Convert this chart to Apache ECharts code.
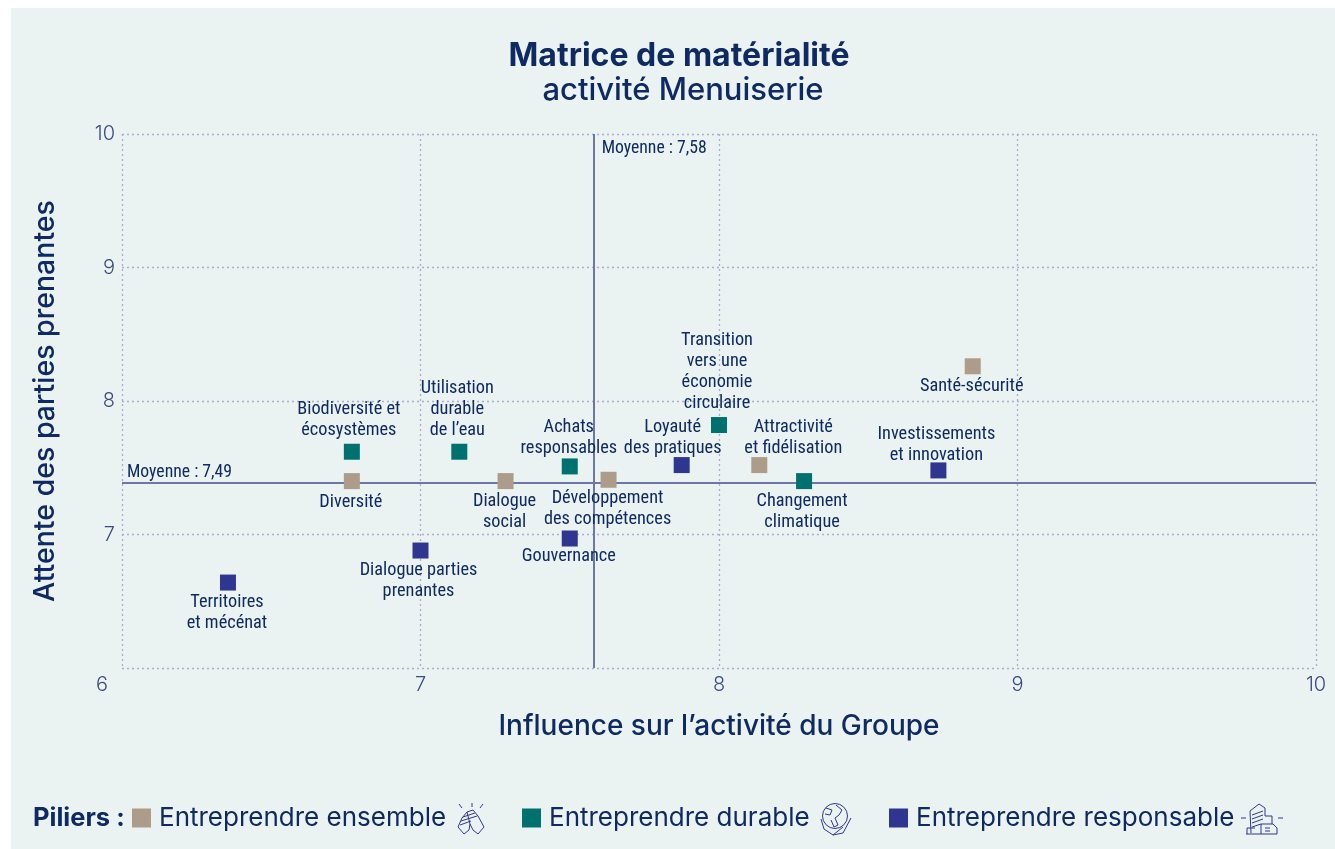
<!DOCTYPE html>
<html><head><meta charset="utf-8">
<script src="https://cdn.jsdelivr.net/npm/echarts@6/dist/echarts.min.js"></script>
<style>
html,body{margin:0;padding:0;background:#fff;overflow:hidden}
#panel{position:absolute;left:11px;top:8px;right:0;bottom:0;background:#eaf3f1}
#c{position:absolute;left:0;top:0;width:1335px;height:849px}
</style></head><body><div id="panel"></div><div id="c"></div>
<script>
const xTicks = ['6','7','8','9','10'];
const yTicks = ['6','7','8','9','10'];
const meanX = 7.58, meanY = 7.39;
const meanXLabel = 'Moyenne : 7,58', meanYLabel = 'Moyenne : 7,49';

const ensembleNames = ['Santé-sécurité','Attractivité\net fidélisation','Développement\ndes compétences','Dialogue\nsocial','Diversité'];
const ensembleX = [8.85,8.135,7.63,7.285,6.77];
const ensembleY = [8.26,7.52,7.41,7.40,7.40];

const durableNames = ['Changement\nclimatique','Transition\nvers une\néconomie\ncirculaire','Achats\nresponsables','Utilisation\ndurable\nde l’eau','Biodiversité et\nécosystèmes'];
const durableX = [8.285,8.00,7.50,7.13,6.77];
const durableY = [7.40,7.82,7.51,7.62,7.62];

const responsableNames = ['Investissements\net innovation','Loyauté\ndes pratiques','Gouvernance','Dialogue parties\nprenantes','Territoires\net mécénat'];
const responsableX = [8.735,7.875,7.50,7.00,6.355];
const responsableY = [7.48,7.52,6.97,6.88,6.64];

const pillars = ['Entreprendre ensemble','Entreprendre durable','Entreprendre responsable'];

// label placement, separate from the data: [side, horizontal shift, vertical shift]
const place = {
 'Santé-sécurité':['bottom',-1,1],'Attractivité\net fidélisation':['top',34,5],'Développement\ndes compétences':['bottom',-1,-1],
 'Dialogue\nsocial':['bottom',-1,1],'Diversité':['bottom',-1,2],'Changement\nclimatique':['bottom',-2,1],
 'Transition\nvers une\néconomie\ncirculaire':['top',-2,0],'Achats\nresponsables':['top',-1,4],'Utilisation\ndurable\nde l’eau':['top',-2,0],
 'Biodiversité et\nécosystèmes':['top',-3,0],'Investissements\net innovation':['top',-2,7],'Loyauté\ndes pratiques':['top',-9,5],
 'Gouvernance':['bottom',-1,-2],'Dialogue parties\nprenantes':['bottom',-2,0],'Territoires\net mécénat':['bottom',-1,0]
};

const NAVY='#0f2a62', WIDE='Inter, "Open Sans", sans-serif', NARROW='"Liberation Sans Narrow","Roboto Condensed",Roboto,sans-serif';
const colors=['#ad9c8a','#00716f','#2f3690'];

function pts(names,xs,ys){
  return names.map((n,i)=>{
    const p=place[n];
    return {name:n,value:[xs[i],ys[i]],label:{position:p[0],offset:[p[1],p[2]],distance:p[0]==='top'?3:1}};
  });
}
function ser(i,names,xs,ys,extra){
  return Object.assign({name:pillars[i],type:'scatter',symbol:'rect',symbolSize:16,z:5,
    itemStyle:{color:colors[i],opacity:1},
    label:{show:true,formatter:'{b}',color:NAVY,fontFamily:NARROW,fontSize:18.3,lineHeight:21,align:'center'},
    emphasis:{disabled:true},
    data:pts(names,xs,ys)},extra||{});
}
const lineStyle={color:'#6c77a6',width:2,type:'solid'};
const meanLbl={color:NAVY,fontFamily:NARROW,fontSize:17.7};
const means={
  markLine:{silent:true,symbol:'none',animation:false,lineStyle,label:{show:false},
    data:[{xAxis:meanX},{yAxis:meanY}]},
  markPoint:{silent:true,symbol:'rect',symbolSize:0,animation:false,
    data:[
      {coord:[meanX,10],label:{show:true,formatter:meanXLabel,position:'right',offset:[3,15],...meanLbl}},
      {coord:[6,meanY],label:{show:true,formatter:meanYLabel,position:'right',offset:[0,-10],...meanLbl}}
    ]}
};
const grid={show:false,left:122,right:19,top:134,bottom:181};
const split={show:true,lineStyle:{color:'#a9aed0',type:[2,3],width:1.3}};
const tickLbl={color:'#3a4c7e',fontFamily:WIDE,fontWeight:300,fontSize:20};
const legendBase={orient:'horizontal',icon:'rect',itemWidth:19,itemHeight:19,selectedMode:false,top:800,
  textStyle:{color:NAVY,fontFamily:WIDE,fontSize:26,fontWeight:400,padding:[0,0,0,3]}};
const iconStyle={fill:'none',stroke:'#2f3690',lineWidth:1};
const strokes=(x,y,lines)=>({type:'group',x,y,children:lines.map(p=>({type:'polyline',shape:{points:p},style:iconStyle}))});

const chart=echarts.init(document.getElementById('c'),null,{renderer:'canvas'});
chart.setOption({
  animation:false,
  grid,
  title:[
    {text:'Matrice de matérialité',left:674,top:35,textAlign:'center',textStyle:{color:NAVY,fontFamily:WIDE,fontWeight:700,fontSize:32}},
    {text:'activité Menuiserie',left:678,top:70,textAlign:'center',textStyle:{color:NAVY,fontFamily:WIDE,fontWeight:500,fontSize:31}}
  ],
  xAxis:{type:'value',min:6,max:10,interval:1,
    name:'Influence sur l’activité du Groupe',nameLocation:'middle',nameGap:45,
    nameTextStyle:{color:NAVY,fontFamily:WIDE,fontSize:28,fontWeight:500},
    axisLine:{show:false},axisTick:{show:false},splitLine:split,
    axisLabel:{...tickLbl,margin:7,showMinLabel:true,showMaxLabel:true,
      formatter:v=>v===6?'{s|'+xTicks[0]+'}':xTicks[v-6],
      rich:{s:{...tickLbl,padding:[0,40,0,0]}}}},
  yAxis:{type:'value',min:6,max:10,interval:1,
    name:'Attente des parties prenantes',nameLocation:'middle',nameGap:62,
    nameTextStyle:{color:NAVY,fontFamily:WIDE,fontSize:28.5,fontWeight:500},
    axisLine:{show:false},axisTick:{show:false},splitLine:split,
    axisLabel:{...tickLbl,margin:7,formatter:v=>v===6?'':yTicks[v-6]}},
  legend:[
    {...legendBase,left:127,data:[pillars[0]]},
    {...legendBase,left:517,data:[pillars[1]]},
    {...legendBase,left:884,data:[pillars[2]]}
  ],
  graphic:[
    {type:'text',x:33,y:805,style:{text:'Piliers :',fill:NAVY,font:'700 25.5px '+WIDE}},
    strokes(455,803,[
      [[12,9],[7,15],[3,24],[9,31],[14,27],[15,21],[18,27],[23,31],[29,24],[23,13],[18,7],[12,9],[15,21]],
      [[8,14],[20,10]],[[6,18],[22,13]],[[5,22],[16,18]],[[4,1],[7,5]],[[17,0],[17,4]],[[28,1],[25,5]]]),
    {type:'circle',x:819,y:803,shape:{cx:16,cy:13,r:12.5},style:iconStyle},
    strokes(819,803,[
      [[7,5],[13,7],[11,12],[6,11]],[[17,2],[23,7],[20,12],[16,15],[19,22],[15,24],[12,17]],
      [[2,16],[5,26],[14,32],[24,30],[32,15]],[[14,32],[24,24]]]),
    strokes(1241,803,[
      [[0,15],[5,15]],[[37,15],[42,15]],[[10,30],[9,8],[18,1],[24,5],[24,13]],
      [[11,12],[22,8]],[[11,16],[22,12]],[[11,20],[22,16]],[[11,24],[20,21]],
      [[6,31],[6,25],[14,25]],[[24,13],[31,13],[31,21]],[[20,31],[20,21],[32,21],[36,25],[36,31],[5,31]],
      [[24,25],[29,25]],[[24,28],[29,28]]])
  ],
  series:[
    ser(0,ensembleNames,ensembleX,ensembleY),
    ser(1,durableNames,durableX,durableY),
    ser(2,responsableNames,responsableX,responsableY,means)
  ]
});
</script></body></html>
